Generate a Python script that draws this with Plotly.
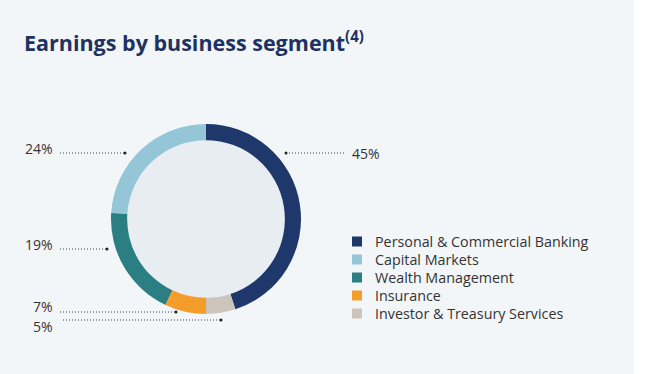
import plotly.graph_objects as go

W, H = 660, 374

# ---- data ----
segments = [
    "Personal & Commercial Banking",
    "Capital Markets",
    "Wealth Management",
    "Insurance",
    "Investor & Treasury Services",
]
earnings_pct = [45, 24, 19, 7, 5]
colors = ["#1f386c", "#94c6d8", "#2b7f82", "#f59d2a", "#cdc5bc"]

title_text = "Earnings by business segment"
title_note = "(4)"

FONT = "Open Sans"
TXT = "#333333"


def px(x):
    return x / W


def py(y):
    return 1 - y / H


cx, cy, R = 206, 219, 95
hole_r = 80

fig = go.Figure(
    go.Pie(
        labels=segments,
        values=earnings_pct,
        hole=0.83,
        sort=False,
        direction="counterclockwise",
        rotation=0,
        marker=dict(colors=colors, line=dict(width=0)),
        textinfo="none",
        hoverinfo="label+percent",
        showlegend=False,
        domain=dict(x=[px(cx - R), px(cx + R)], y=[py(cy + R), py(cy - R)]),
    )
)

shapes = [
    dict(type="rect", xref="paper", yref="paper", x0=0, x1=px(634), y0=0, y1=1,
         fillcolor="#f3f6f9", line=dict(width=0), layer="below"),
    dict(type="circle", xref="paper", yref="paper",
         x0=px(cx - hole_r), x1=px(cx + hole_r), y0=py(cy + hole_r), y1=py(cy - hole_r),
         fillcolor="#e8edf2", line=dict(width=0), layer="below"),
]

# label placement: (text x, text y, side, leader x-start, leader x-end, leader y, dot x)
label_layout = {
    0: (350, 153, "left", 286, 345, 153, 286),
    1: (55, 148, "right", 60, 125, 153, 125),
    2: (55, 244, "right", 60, 107, 249, 107),
    3: (55, 306, "right", 60, 176, 312, 176),
    4: (55, 326, "right", 63, 221, 320, 221),
}

annotations = [
    dict(xref="paper", yref="paper", x=px(22), y=py(41), xanchor="left", yanchor="middle",
         text=f"{title_text}<sup>{title_note}</sup>", showarrow=False,
         font=dict(family=FONT, size=21.5, weight=700, color="#1e3262")),
]

for i, v in enumerate(earnings_pct):
    tx, ty, side, lx0, lx1, ly, dx = label_layout[i]
    annotations.append(
        dict(xref="paper", yref="paper", x=px(tx), y=py(ty),
             xanchor="left" if side == "left" else "right", yanchor="middle",
             text=f"{v}%", showarrow=False,
             font=dict(family=FONT, size=14, color=TXT))
    )
    shapes.append(dict(type="line", xref="paper", yref="paper",
                       x0=px(lx0), x1=px(lx1), y0=py(ly), y1=py(ly),
                       line=dict(color="#444444", width=1, dash="1px,2px")))
    shapes.append(dict(type="circle", xref="paper", yref="paper",
                       x0=px(dx - 1.5), x1=px(dx + 1.5), y0=py(ly + 1.5), y1=py(ly - 1.5),
                       fillcolor="#222222", line=dict(width=0)))

# manual legend
leg_x, leg_y0, leg_dy, sq = 352, 241.5, 18, 10
for i, (name, col) in enumerate(zip(segments, colors)):
    yc = leg_y0 + i * leg_dy
    shapes.append(dict(type="rect", xref="paper", yref="paper",
                       x0=px(leg_x), x1=px(leg_x + sq), y0=py(yc + sq / 2), y1=py(yc - sq / 2),
                       fillcolor=col, line=dict(width=0)))
    annotations.append(dict(xref="paper", yref="paper", x=px(373), y=py(yc),
                            xanchor="left", yanchor="middle", text=name, showarrow=False,
                            font=dict(family=FONT, size=14.3, color=TXT)))

fig.update_layout(
    width=W,
    height=H,
    margin=dict(l=0, r=0, t=0, b=0),
    paper_bgcolor="#ffffff",
    plot_bgcolor="#ffffff",
    font=dict(family=FONT, color=TXT),
    showlegend=False,
    shapes=shapes,
    annotations=annotations,
)

fig.write_html("out.html", config={"displayModeBar": False},
               post_script="document.body.style.margin='0';")
